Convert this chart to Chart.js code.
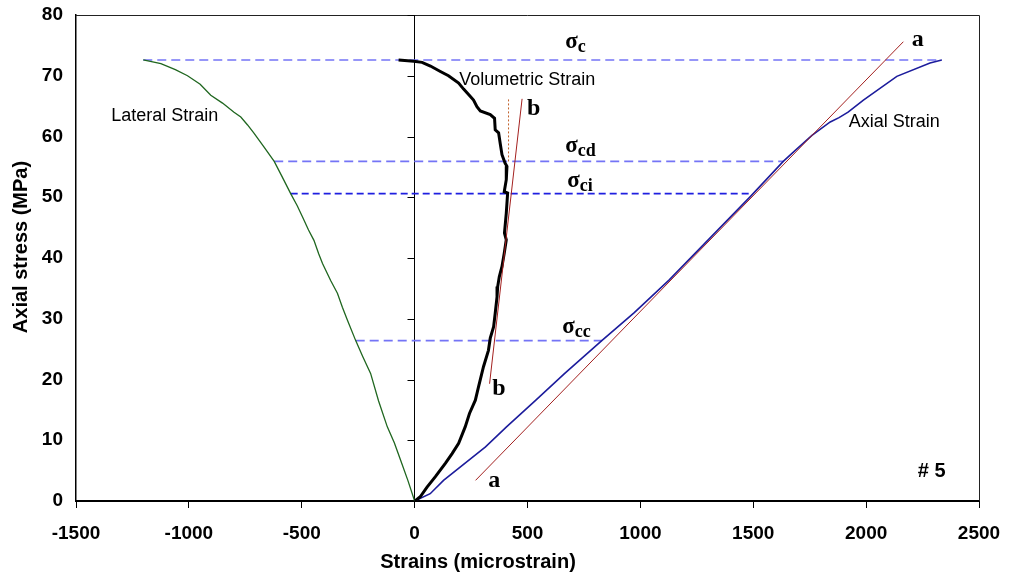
<!DOCTYPE html>
<html>
<head>
<meta charset="utf-8">
<script src="https://cdn.jsdelivr.net/npm/chart.js@4.4.1/dist/chart.umd.min.js"></script>
<style>
  html, body { margin: 0; padding: 0; background: #fff; }
</style>
</head>
<body>
<canvas id="stressChart" width="1009" height="581"></canvas>
<script>
// --- data (strain in microstrain, stress in MPa) ---
const lateralStrain = [-1202, -1124, -1060, -1006, -950, -903, -851, -800, -770, -740, -711, -670, -622, -590, -549, -520, -497, -470, -446, -425, -408, -372, -342, -320, -298, -261, -230, -195, -160, -121, -90, -62, -30, 0];
const lateralStress = [72.6, 72.0, 71.0, 70.0, 68.6, 66.8, 65.5, 64.0, 63.2, 61.9, 60.5, 58.4, 55.9, 53.6, 50.6, 48.6, 46.8, 44.6, 42.9, 40.7, 39.1, 36.3, 34.2, 31.9, 29.8, 26.4, 23.8, 21.0, 16.5, 12.2, 9.6, 6.7, 3.4, 0];

const volStrain = [-71, -4, 33, 70, 114, 150, 195, 217, 239, 261, 276, 291, 335, 354, 357, 372, 379, 387, 401, 409, 406, 397, 412, 406, 398, 406, 397, 387, 375, 368, 365, 357, 350, 335, 327, 305, 283, 269, 243, 224, 195, 166, 136, 92, 55, 25, 3, 0];
const volStress = [72.6, 72.4, 72.2, 71.6, 70.7, 70.0, 68.8, 67.8, 66.9, 66.0, 64.9, 64.2, 63.6, 63.0, 61.1, 60.6, 58.9, 57.0, 55.6, 55.1, 52.9, 50.9, 50.7, 47.4, 44.1, 43.0, 40.8, 38.6, 36.9, 35.3, 33.6, 30.9, 28.7, 26.8, 24.8, 22.1, 18.8, 16.6, 14.4, 12.2, 9.5, 7.8, 6.2, 4.0, 2.3, 0.7, 0.05, 0];

const axialStrain = [0, 69, 128, 314, 407, 537, 665, 829, 973, 1128, 1487, 1633, 1680, 1760, 1841, 1880, 1920, 1988, 2136, 2283, 2335];
const axialStress = [0, 1.2, 3.4, 8.9, 12.2, 16.6, 21.0, 26.4, 31.0, 36.4, 50.1, 55.9, 57.5, 60.2, 62.4, 63.1, 64.0, 66.0, 69.9, 72.1, 72.6];

// tangent lines a-a and b-b, plus the dotted vertical
const lineAStrain = [270, 2165];
const lineAStress = [3.4, 75.6];
const lineBStrain = [332, 476];
const lineBStress = [19.3, 66.2];
const dottedStrain = [416, 416];
const dottedStress = [55.9, 66.4];

// threshold levels: sigma_c, sigma_cd, sigma_ci, sigma_cc
const sigmaNames = ['c', 'cd', 'ci', 'cc'];
const sigmaLevel = [72.6, 55.9, 50.6, 26.4];
const sigmaFrom = [-1202, -622, -549, -261];
const sigmaTo = [2335, 1633, 1494, 830];
const sigmaLabelX = [667, 667, 676, 654];
const sigmaLabelY = [74.6, 57.5, 51.7, 27.6];

// curve / marker labels
const curveLabels = ['Lateral Strain', 'Volumetric Strain', 'Axial Strain', '# 5'];
const curveLabelX = [-1344, 198, 1923, 2229];
const curveLabelY = [63.4, 69.3, 62.3, 4.9];
const letterLabels = ['a', 'a', 'b', 'b'];
const letterX = [2202, 326, 498, 344];
const letterY = [74.9, 2.3, 63.6, 17.4];

const xTicks = [-1500, -1000, -500, 0, 500, 1000, 1500, 2000, 2500];
const yTicks = [0, 10, 20, 30, 40, 50, 60, 70, 80];
const xTitle = 'Strains (microstrain)';
const yTitle = 'Axial stress (MPa)';

function toPoints(xs, ys) {
  return xs.map((x, i) => ({ x: x, y: ys[i] }));
}

const datasets = [];
sigmaLevel.forEach((lvl, i) => {
  datasets.push({
    label: 'sigma ' + sigmaNames[i],
    data: toPoints([sigmaFrom[i], sigmaTo[i]], [lvl, lvl]),
    borderColor: sigmaNames[i] === 'ci' ? '#1f1fe0' : '#7474f6',
    borderWidth: 1.6,
    borderDash: sigmaNames[i] === 'ci' ? [7, 4] : [9, 5],
    order: 5
  });
});
datasets.push({ label: 'Lateral', data: toPoints(lateralStrain, lateralStress), borderColor: '#1f661f', borderWidth: 1.3, order: 3 });
datasets.push({ label: 'Axial', data: toPoints(axialStrain, axialStress), borderColor: '#1c1c9c', borderWidth: 1.6, order: 3 });
datasets.push({ label: 'Volumetric', data: toPoints(volStrain, volStress), borderColor: '#000000', borderWidth: 3, order: 2 });
datasets.push({ label: 'a-a', data: toPoints(lineAStrain, lineAStress), borderColor: '#a3201f', borderWidth: 1, order: 1 });
datasets.push({ label: 'b-b', data: toPoints(lineBStrain, lineBStress), borderColor: '#a3201f', borderWidth: 1, order: 1 });
datasets.push({ label: 'dotted', data: toPoints(dottedStrain, dottedStress), borderColor: '#c0602a', borderWidth: 1, borderDash: [2, 2], order: 1 });

// frame, centre axis at x=0, axis titles and the text annotations
const decorPlugin = {
  id: 'decor',
  beforeDatasetsDraw(chart) {
    const { ctx, chartArea: a, scales: { x, y } } = chart;
    ctx.save();
    ctx.strokeStyle = '#222';
    ctx.lineWidth = 1;
    ctx.beginPath();
    ctx.moveTo(a.left, a.top + 0.5);
    ctx.lineTo(a.right + 0.5, a.top + 0.5);
    ctx.lineTo(a.right + 0.5, a.bottom);
    ctx.stroke();
    // y axis crossing at zero strain, ticks pointing left
    const x0 = Math.round(x.getPixelForValue(0)) - 0.5;
    ctx.strokeStyle = '#000';
    ctx.beginPath();
    ctx.moveTo(x0, a.top);
    ctx.lineTo(x0, a.bottom);
    yTicks.forEach(v => {
      const py = Math.round(y.getPixelForValue(v)) + 0.5;
      ctx.moveTo(x0 - 7, py);
      ctx.lineTo(x0, py);
    });
    ctx.stroke();
    ctx.restore();
  },
  afterDatasetsDraw(chart) {
    const { ctx, scales: { x, y } } = chart;
    ctx.save();
    ctx.fillStyle = '#000';
    ctx.textBaseline = 'middle';
    ctx.textAlign = 'left';
    curveLabels.forEach((t, i) => {
      ctx.font = t === '# 5' ? 'bold 20px "Liberation Sans", Arial, sans-serif' : '18px "Liberation Sans", Arial, sans-serif';
      ctx.fillText(t, x.getPixelForValue(curveLabelX[i]), y.getPixelForValue(curveLabelY[i]));
    });
    ctx.textBaseline = 'alphabetic';
    sigmaNames.forEach((s, i) => {
      const px = x.getPixelForValue(sigmaLabelX[i]);
      const py = y.getPixelForValue(sigmaLabelY[i]);
      ctx.font = 'bold 23px "Liberation Serif", "Times New Roman", serif';
      ctx.fillText('σ', px, py);
      const w = ctx.measureText('σ').width;
      ctx.font = 'bold 18px "Liberation Serif", "Times New Roman", serif';
      ctx.fillText(s, px + w, py + 4);
    });
    ctx.font = 'bold 24px "Liberation Serif", "Times New Roman", serif';
    letterLabels.forEach((t, i) => {
      ctx.fillText(t, x.getPixelForValue(letterX[i]), y.getPixelForValue(letterY[i]));
    });
    // axis titles
    ctx.font = 'bold 20px "Liberation Sans", Arial, sans-serif';
    ctx.textAlign = 'center';
    ctx.textBaseline = 'middle';
    ctx.fillText(xTitle, 478, 562);
    ctx.translate(21, 247);
    ctx.rotate(-Math.PI / 2);
    ctx.fillText(yTitle, 0, 0);
    ctx.restore();
  }
};

Chart.defaults.font.family = '"Liberation Sans", Arial, sans-serif';
Chart.defaults.color = '#000';

new Chart(document.getElementById('stressChart'), {
  type: 'scatter',
  data: { datasets: datasets },
  options: {
    responsive: false,
    animation: false,
    showLine: true,
    elements: { point: { radius: 0, hoverRadius: 0 }, line: { tension: 0, fill: false } },
    layout: { padding: { top: 15, right: 30, left: 0, bottom: 0 } },
    plugins: { legend: { display: false }, tooltip: { enabled: false } },
    scales: {
      x: {
        type: 'linear',
        min: -1500,
        max: 2500,
        afterBuildTicks(scale) { scale.ticks = xTicks.map(v => ({ value: v })); },
        afterFit(scale) { scale.height = 80; scale.paddingLeft = 0; scale.paddingRight = 0; },
        ticks: { padding: 14, color: '#000', font: { size: 19, weight: 'bold' }, callback: v => String(v) },
        grid: { display: true, drawOnChartArea: false, drawTicks: true, tickLength: 7, color: '#000', lineWidth: 1 },
        border: { display: true, color: '#000', width: 2 }
      },
      y: {
        type: 'linear',
        min: 0,
        max: 80,
        afterBuildTicks(scale) { scale.ticks = yTicks.map(v => ({ value: v })); },
        afterFit(scale) { scale.width = 76; scale.paddingTop = 0; scale.paddingBottom = 0; },
        ticks: { padding: 13, color: '#000', font: { size: 19, weight: 'bold' }, callback: v => String(v) },
        grid: { display: false, drawTicks: false },
        border: { display: true, color: '#000', width: 1.5 }
      }
    }
  },
  plugins: [decorPlugin]
});
</script>
</body>
</html>
